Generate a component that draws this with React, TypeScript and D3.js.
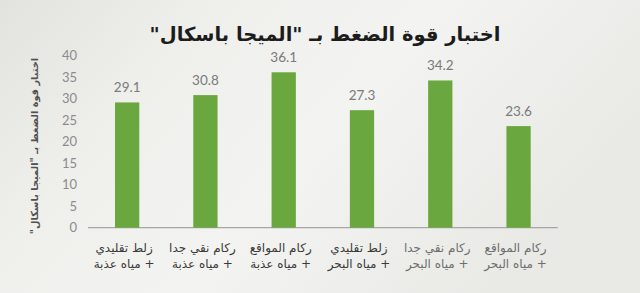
import React from "react";
import * as d3 from "d3";

const categoriesLine1 = ["زلط تقليدي", "ركام نقي جدا", "ركام المواقع", "زلط تقليدي", "ركام نقي جدا", "ركام المواقع"];
const categoriesLine2 = ["+ مياه عذبة", "+ مياه عذبة", "+ مياه عذبة", "+ مياه البحر", "+ مياه البحر", "+ مياه البحر"];
const values = [29.1, 30.8, 36.1, 27.3, 34.2, 23.6];
const yTicks = [0, 5, 10, 15, 20, 25, 30, 35, 40];
const titleText = 'اختبار قوة الضغط بـ "الميجا باسكال"';
const yTitleText = 'اختبار قوة الضغط بـ "الميجا باسكال"';

const W = 640;
const H = 293;
const AR = "'DejaVu Sans', sans-serif";
const NUM = "Lato, 'Open Sans', sans-serif";

export default function App() {
  const idx = values.map((_, i) => String(i));
  const x = d3.scaleBand<string>().domain(idx).range([88, 557.7]).paddingInner(0.69).paddingOuter(0.345);
  const y = d3.scaleLinear().domain([0, 40]).range([227.7, 55.5]);

  return (
    <svg width={W} height={H} style={{ position: "fixed", left: 0, top: 0 }}>
      <defs>
        <linearGradient id="bg" x1="0" y1="0" x2="1" y2="0.4">
          <stop offset="0" stopColor="#e2e2de" />
          <stop offset="0.3" stopColor="#efefec" />
          <stop offset="0.6" stopColor="#f3f3f1" />
          <stop offset="1" stopColor="#e9e9e6" />
        </linearGradient>
      </defs>
      <rect x={0} y={0} width={W} height={H} fill="url(#bg)" />

      <text
        x={325}
        y={41}
        textAnchor="middle"
        style={{ direction: "rtl" }}
        fontFamily={AR}
        fontWeight="bold"
        fontSize={19.5}
        fill="#1c1c1c"
      >
        {titleText}
      </text>

      <text
        transform={`translate(38,${(60 + 232) / 2}) rotate(-90)`}
        textAnchor="middle"
        style={{ direction: "rtl" }}
        fontFamily={AR}
        fontWeight="bold"
        fontSize={9.8}
        fill="#505050"
      >
        {yTitleText}
      </text>

      {yTicks.map((t) => (
        <text key={t} x={77} y={y(t)} dy="0.35em" textAnchor="end" fontFamily={NUM} fontSize={13} fill="#8c8c8c">
          {t}
        </text>
      ))}

      <line x1={88} x2={557.7} y1={y(0)} y2={y(0)} stroke="#a6a6a6" strokeWidth={1.2} />

      {values.map((v, i) => (
        <g key={i}>
          <rect
            x={x(String(i))!}
            y={y(v)}
            width={x.bandwidth()}
            height={y(0) - y(v)}
            fill="#6aa73f"
          />
          <text
            x={x(String(i))! + x.bandwidth() / 2}
            y={y(v) - 10}
            textAnchor="middle"
            fontFamily={NUM}
            fontSize={13.5}
            fill="#7a7a7a"
          >
            {v.toFixed(1)}
          </text>
          <text
            x={x(String(i))! + x.bandwidth() / 2 - 3}
            y={252}
            textAnchor="middle"
            style={{ direction: "rtl" }}
            fontFamily={AR}
            fontSize={12}
            fill={i >= 4 ? "#6e6e6e" : "#3a3a3a"}
          >
            {categoriesLine1[i]}
          </text>
          <text
            x={x(String(i))! + x.bandwidth() / 2 - 3}
            y={268}
            textAnchor="middle"
            style={{ direction: "rtl" }}
            fontFamily={AR}
            fontSize={12}
            fill={i >= 4 ? "#6e6e6e" : "#3a3a3a"}
          >
            {categoriesLine2[i]}
          </text>
        </g>
      ))}
    </svg>
  );
}
